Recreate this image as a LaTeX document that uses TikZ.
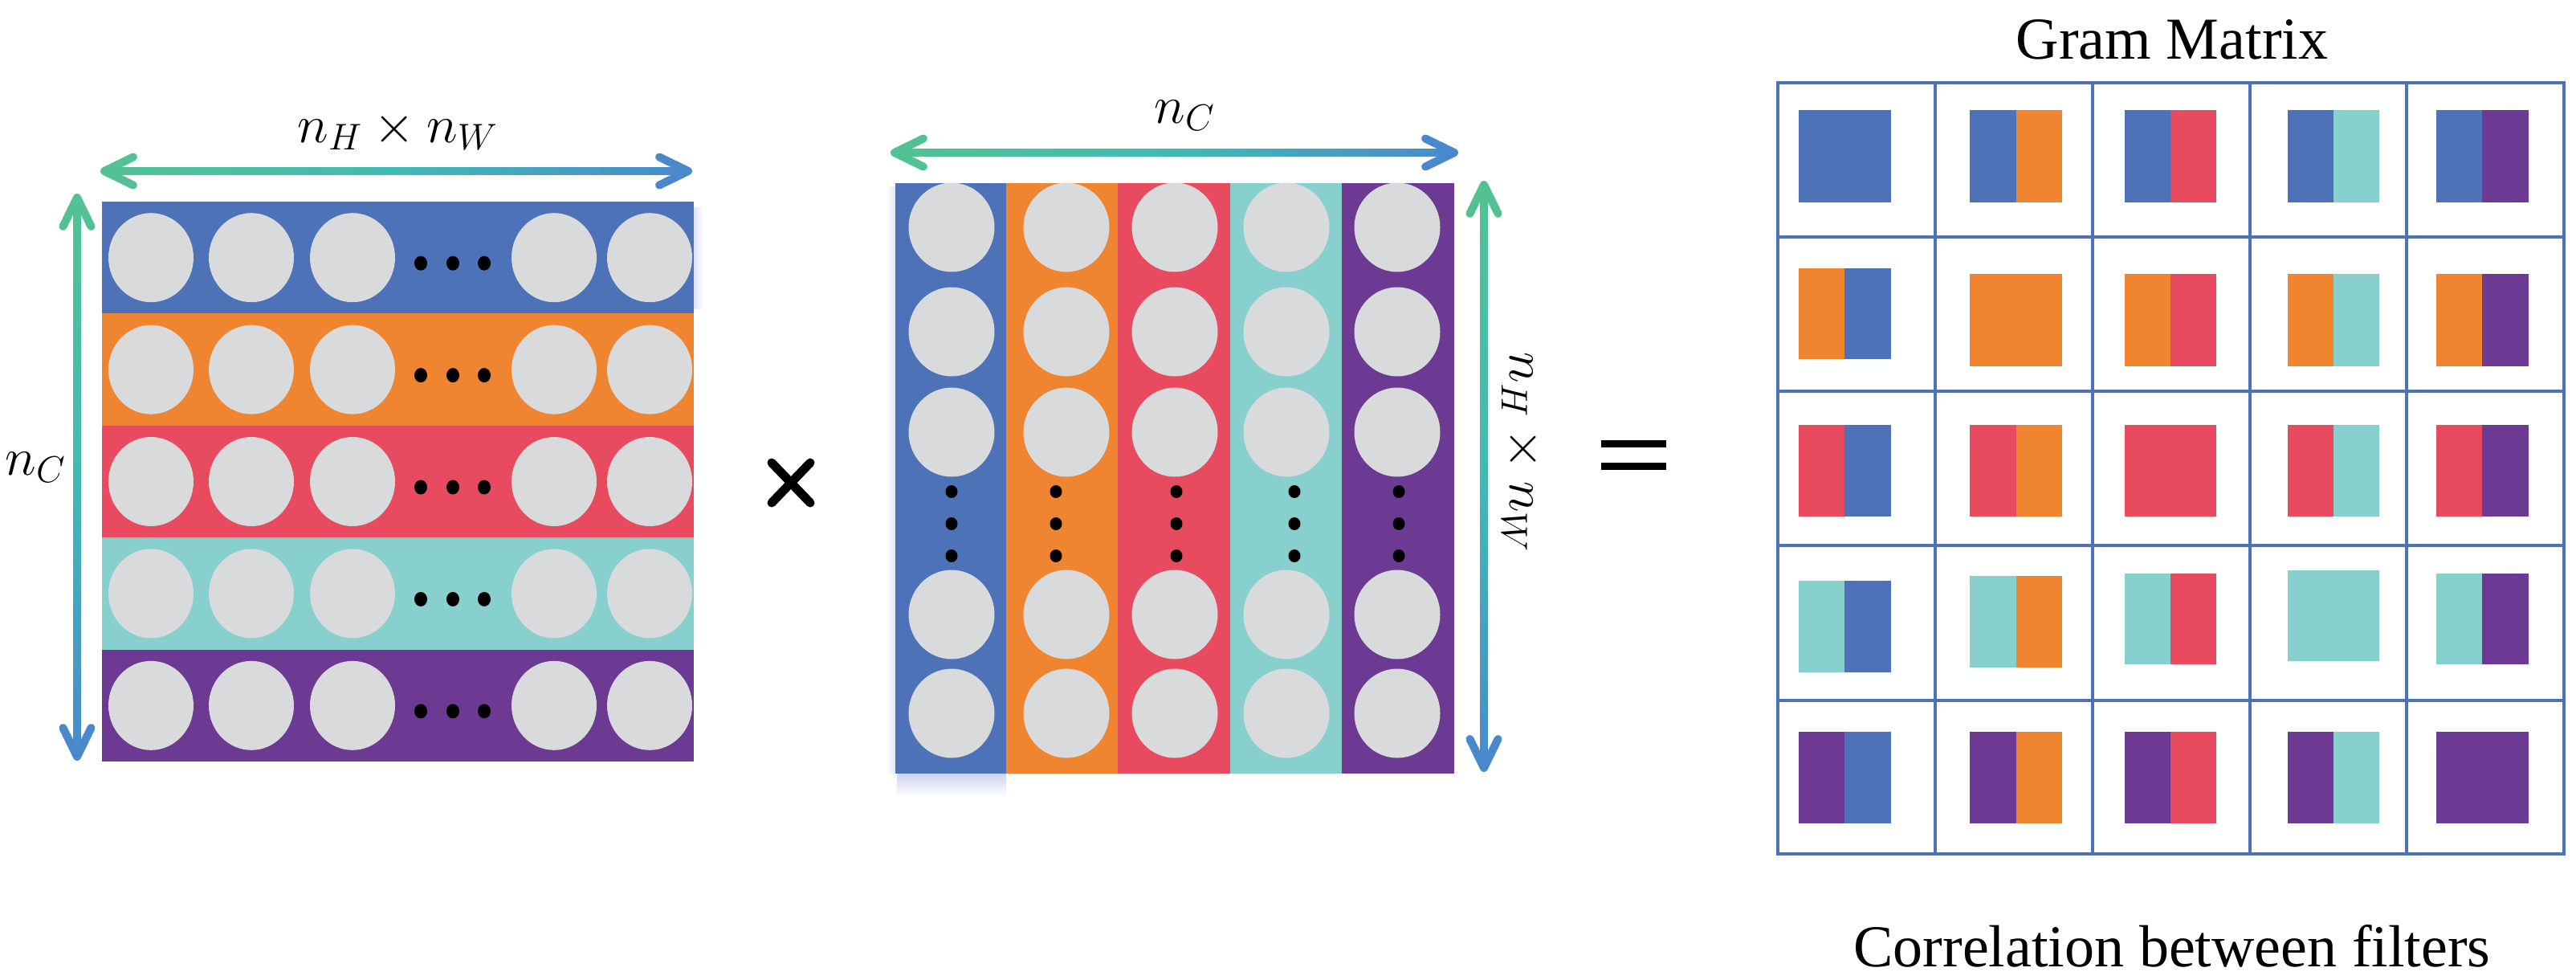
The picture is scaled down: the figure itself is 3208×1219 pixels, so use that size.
\documentclass[tikz,border=0pt]{standalone}
\usepackage{fix-cm}
\usepackage{fontspec}
\setmainfont{Liberation Serif}
\usetikzlibrary{calc}
\definecolor{cblue}{RGB}{78,114,184}
\definecolor{corange}{RGB}{239,132,49}
\definecolor{cred}{RGB}{232,75,95}
\definecolor{cteal}{RGB}{136,208,205}
\definecolor{cpurple}{RGB}{108,58,147}
\definecolor{cgray}{RGB}{217,218,219}
\definecolor{agreen}{RGB}{82,194,148}
\definecolor{ateal}{RGB}{64,186,180}
\definecolor{ablue}{RGB}{74,136,204}
\definecolor{glow}{RGB}{160,168,228}
\tikzset{
  shaft/.style={line width=10pt, line cap=butt},
  chevron/.style={line width=10pt, line cap=round, line join=round},
  gridline/.style={line width=3.5pt, cblue, line cap=rect},
  lbl/.style={font=\fontsize{66}{70}\selectfont, inner sep=0pt},
  ttl/.style={font=\fontsize{74}{80}\selectfont, inner sep=0pt},
  disc/.style={cgray},
  dotm/.style={black}
}
\newcommand{\gradshaft}[2]{%
  \foreach \i in {0,...,39}{%
    \pgfmathsetmacro\ta{\i/40}%
    \pgfmathsetmacro\tb{min((\i+1.6)/40,1)}%
    \pgfmathtruncatemacro\pa{mod(\i,20)*5}%
    \ifnum\i<20 \colorlet{segc}{ateal!\pa!agreen}\else\colorlet{segc}{ablue!\pa!ateal}\fi
    \draw[shaft,segc] ($(#1)!\ta!(#2)$) -- ($(#1)!\tb!(#2)$);
  }%
}
\newcommand{\chev}[3]{\draw[chevron,#3] ($(#1)+(#2+26:40)$) -- (#1) -- ($(#1)+(#2-26:40)$);}
\newcommand{\gcell}[7]{\fill[#6] (#1,#4) rectangle (#2,#5); \fill[#7] (#2,#4) rectangle (#3,#5);}
\begin{document}
\begin{tikzpicture}[x=1pt,y=-1pt]
\useasboundingbox (0,0) rectangle (3208,1219);
\fill[white] (0,0) rectangle (3208,1219);

% ---------- left matrix (rows) ----------
\shade[left color=glow!35!white, right color=white] (864,258) rectangle (876,384);
\foreach \c [count=\k from 0] in {cblue,corange,cred,cteal,cpurple}{
  \pgfmathsetmacro\yt{251+\k*139.4}
  \pgfmathsetmacro\yb{251+(\k+1)*139.4}
  \pgfmathsetmacro\yc{251+(\k+0.5)*139.4}
  \fill[\c] (127,\yt) rectangle (864,\yb);
  \foreach \xc in {188,313,439,690,809}{
    \fill[disc] (\xc,\yc) ellipse [x radius=53, y radius=55.5];
  }
  \foreach \xd in {524,564,603}{
    \fill[dotm] (\xd,\yc+7) ellipse [x radius=8, y radius=9];
  }
}

% ---------- middle matrix (columns) ----------
\shade[top color=glow!50!white, bottom color=white] (1117,963) rectangle (1253,992);
\shade[left color=white, right color=glow!30!white] (1104,232) rectangle (1115,963);
\foreach \c/\xl/\xr/\xc/\xd in {cblue/1115/1253/1185/1185, corange/1253/1392/1328/1315, cred/1392/1532/1463/1465, cteal/1532/1671/1602/1612, cpurple/1671/1811/1740/1742}{
  \fill[\c] (\xl,228) rectangle (\xr,963);
  \foreach \yc in {283,413,538,765,888}{
    \fill[disc] (\xc,\yc) ellipse [x radius=53.5, y radius=55.5];
  }
  \foreach \yd in {612,652,692}{
    \fill[dotm] (\xd,\yd) ellipse [x radius=7.5, y radius=8];
  }
}

% ---------- dimension arrows ----------
\coordinate (hL1) at (130,213);
\coordinate (hR1) at (857,213);
\coordinate (vT1) at (96,246);
\coordinate (vB1) at (96,942);
\coordinate (hL2) at (1114,190);
\coordinate (hR2) at (1811,190);
\coordinate (vT2) at (1848,230);
\coordinate (vB2) at (1848,956);
\gradshaft{hL1}{hR1}
\chev{hL1}{0}{agreen}
\chev{hR1}{180}{ablue}
\gradshaft{vT1}{vB1}
\chev{vT1}{90}{agreen}
\chev{vB1}{270}{ablue}
\gradshaft{hL2}{hR2}
\chev{hL2}{0}{agreen}
\chev{hR2}{180}{ablue}
\gradshaft{vT2}{vB2}
\chev{vT2}{90}{agreen}
\chev{vB2}{270}{ablue}

% ---------- labels ----------
\node[lbl, anchor=base] (lblHW) at (495,177) {$n_H \times n_W$};
\node[lbl, anchor=base] (lblCL) at (44,591) {$n_C$};
\node[lbl, anchor=base] (lblCM) at (1475,153) {$n_C$};
\node[lbl, anchor=base, rotate=-90] (lblHWr) at (1880,563) {$n_H \times n_W$};

% ---------- operators ----------
\draw[line width=11pt, line cap=round] (961,576) -- (1009,626);
\draw[line width=11pt, line cap=round] (961,626) -- (1009,576);
\fill (1994,548) rectangle (2075,557);
\fill (1994,576) rectangle (2075,585);

% ---------- Gram matrix ----------
\node[ttl, anchor=base] (title) at (2705,73) {Gram Matrix};
\node[ttl, anchor=base] (caption) at (2705,1203) {Correlation between filters};

% row 1
\gcell{2240}{2297}{2355}{137}{252}{cblue}{cblue}
\gcell{2453}{2511}{2568}{137}{252}{cblue}{corange}
\gcell{2646}{2703}{2760}{137}{252}{cblue}{cred}
\gcell{2849}{2906}{2963}{137}{252}{cblue}{cteal}
\gcell{3034}{3091}{3149}{137}{252}{cblue}{cpurple}
% row 2
\gcell{2240}{2297}{2355}{334}{447}{corange}{cblue}
\gcell{2453}{2511}{2568}{341}{456}{corange}{corange}
\gcell{2646}{2703}{2760}{341}{456}{corange}{cred}
\gcell{2849}{2906}{2963}{341}{456}{corange}{cteal}
\gcell{3034}{3091}{3149}{341}{456}{corange}{cpurple}
% row 3
\gcell{2240}{2297}{2355}{529}{643}{cred}{cblue}
\gcell{2453}{2511}{2568}{529}{643}{cred}{corange}
\gcell{2646}{2703}{2760}{529}{643}{cred}{cred}
\gcell{2849}{2906}{2963}{529}{643}{cred}{cteal}
\gcell{3034}{3091}{3149}{529}{643}{cred}{cpurple}
% row 4
\gcell{2240}{2297}{2355}{723}{837}{cteal}{cblue}
\gcell{2453}{2511}{2568}{717}{831}{cteal}{corange}
\gcell{2646}{2703}{2760}{714}{827}{cteal}{cred}
\gcell{2849}{2906}{2963}{710}{823}{cteal}{cteal}
\gcell{3034}{3091}{3149}{714}{827}{cteal}{cpurple}
% row 5
\gcell{2240}{2297}{2355}{911}{1025}{cpurple}{cblue}
\gcell{2453}{2511}{2568}{911}{1025}{cpurple}{corange}
\gcell{2646}{2703}{2760}{911}{1025}{cpurple}{cred}
\gcell{2849}{2906}{2963}{911}{1025}{cpurple}{cteal}
\gcell{3034}{3091}{3149}{911}{1025}{cpurple}{cpurple}

\foreach \yy in {103,295,487,679,872,1063}{
  \draw[gridline] (2214,\yy) -- (3193,\yy);
}
\foreach \xx in {2214,2410,2606,2802,2997,3193}{
  \draw[gridline] (\xx,103) -- (\xx,1063);
}
\end{tikzpicture}
\end{document}
